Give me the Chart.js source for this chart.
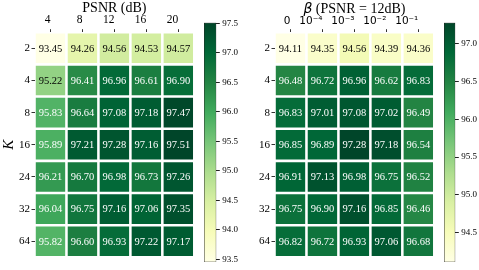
<!DOCTYPE html>
<html lang="en">
<head>
<meta charset="UTF-8">
<title>Heatmaps K x PSNR / beta</title>
<script src="https://cdn.jsdelivr.net/npm/chart.js"></script>
<style>
    html, body { margin: 0; padding: 0; background: #fff; }
    #wrap { position: relative; width: 479px; height: 270px; overflow: hidden; }
    canvas { position: absolute; top: 0; }
</style>
</head>
<body>
<div id="wrap">
    <canvas id="heatLeft" width="200" height="270" style="left:0"></canvas>
    <canvas id="barLeft" width="40" height="270" style="left:200px"></canvas>
    <canvas id="heatRight" width="200" height="270" style="left:240px"></canvas>
    <canvas id="barRight" width="39" height="270" style="left:440px"></canvas>
</div>
<script>
// dados
var kLabels = ['2', '4', '8', '16', '24', '32', '64'];
var psnrLabels = ['4', '8', '12', '16', '20'];
var betaLabels = ['0', '10\u207B\u2074', '10\u207B\u00B3', '10\u207B\u00B2', '10\u207B\u00B9'];

var accPsnr = [
    [93.45, 94.26, 94.56, 94.53, 94.57],
    [95.22, 96.41, 96.96, 96.61, 96.90],
    [95.83, 96.64, 97.08, 97.18, 97.47],
    [95.89, 97.21, 97.28, 97.16, 97.51],
    [96.21, 96.70, 96.98, 96.73, 97.26],
    [96.04, 96.75, 97.16, 97.06, 97.35],
    [95.82, 96.60, 96.93, 97.22, 97.17]
];
var accBeta = [
    [94.11, 94.35, 94.56, 94.39, 94.36],
    [96.48, 96.72, 96.96, 96.62, 96.83],
    [96.83, 97.01, 97.08, 97.02, 96.49],
    [96.85, 96.89, 97.28, 97.18, 96.54],
    [96.91, 97.13, 96.98, 96.75, 96.52],
    [96.75, 96.90, 97.16, 96.85, 96.46],
    [96.82, 96.72, 96.93, 97.06, 96.68]
];
var ticksBarPsnr = [93.5, 94.0, 94.5, 95.0, 95.5, 96.0, 96.5, 97.0, 97.5];
var ticksBarBeta = [94.5, 95.0, 95.5, 96.0, 96.5, 97.0];

// colormap YlGn
var ylgn = [[255, 255, 229], [247, 252, 185], [217, 240, 163], [173, 221, 142], [120, 198, 121],
            [65, 171, 93], [35, 132, 67], [0, 104, 55], [0, 69, 41]];

function corMapa(t) {
    t = Math.max(0, Math.min(1, t));
    var p = t * (ylgn.length - 1);
    var i = Math.min(Math.floor(p), ylgn.length - 2);
    var f = p - i;
    var a = ylgn[i], b = ylgn[i + 1];
    return [0, 1, 2].map(function (k) { return Math.round(a[k] + (b[k] - a[k]) * f); });
}
function rgb(c) { return 'rgb(' + c.join(',') + ')'; }
function luminancia(c) {
    var l = c.map(function (v) {
        v = v / 255;
        return v <= 0.03928 ? v / 12.92 : Math.pow((v + 0.055) / 1.055, 2.4);
    });
    return 0.2126 * l[0] + 0.7152 * l[1] + 0.0722 * l[2];
}

var serif = 'Liberation Serif';

// texto dentro das celulas
var textoCelulas = {
    id: 'textoCelulas',
    afterDatasetsDraw: function (chart) {
        var ctx = chart.ctx;
        ctx.save();
        ctx.font = '10.5px "' + serif + '"';
        ctx.textAlign = 'center';
        ctx.textBaseline = 'middle';
        chart.data.datasets.forEach(function (ds, r) {
            chart.getDatasetMeta(r).data.forEach(function (bar, c) {
                ctx.fillStyle = ds.corTexto[c];
                ctx.fillText(ds.valores[c].toFixed(2), bar.x, (bar.y + bar.base) / 2 + 0.5);
            });
        });
        ctx.restore();
    }
};

// titulo com partes em fontes diferentes (beta em italico)
var tituloMisto = {
    id: 'tituloMisto',
    afterDraw: function (chart, args, opts) {
        if (!opts.partes) return;
        var ctx = chart.ctx;
        ctx.save();
        ctx.textBaseline = 'middle';
        ctx.textAlign = 'left';
        ctx.fillStyle = '#000';
        var larg = 0;
        opts.partes.forEach(function (p) { ctx.font = p.fonte; larg += ctx.measureText(p.texto).width; });
        var x = (chart.chartArea.left + chart.chartArea.right) / 2 - larg / 2;
        opts.partes.forEach(function (p) {
            ctx.font = p.fonte;
            ctx.fillText(p.texto, x, 9);
            x += ctx.measureText(p.texto).width;
        });
        ctx.restore();
    }
};

function criarMapa(id, colunas, valores, tituloX, fonteX, tituloY, partesTitulo) {
    var todos = valores.flat();
    var vmin = Math.min.apply(null, todos), vmax = Math.max.apply(null, todos);
    var datasets = valores.map(function (linha, r) {
        var cores = linha.map(function (v) { return corMapa((v - vmin) / (vmax - vmin)); });
        return {
            label: kLabels[r],
            data: linha.map(function () { return [r - 0.46, r + 0.46]; }),
            valores: linha,
            backgroundColor: cores.map(rgb),
            corTexto: cores.map(function (c) { return luminancia(c) > 0.408 ? '#000' : '#fff'; }),
            borderWidth: 0,
            grouped: false,
            barPercentage: 0.92,
            categoryPercentage: 1
        };
    });

    return new Chart(document.getElementById(id), {
        type: 'bar',
        data: { labels: colunas, datasets: datasets },
        options: {
            responsive: false,
            animation: false,
            layout: { padding: { left: 0, right: 5.7, top: 0, bottom: 12.6 } },
            plugins: {
                legend: { display: false },
                tooltip: { enabled: false },
                tituloMisto: { partes: partesTitulo }
            },
            scales: {
                x: {
                    position: 'top',
                    grid: { drawOnChartArea: false, offset: false, tickLength: 3, color: '#333' },
                    border: { display: false },
                    ticks: { align: 'end', padding: 2, color: '#000', font: fonteX, maxRotation: 0 },
                    title: { display: !!tituloX, text: tituloX, color: '#000', font: { family: serif, size: 14 }, padding: 0 },
                    afterFit: function (s) { s.height = 32.2; }
                },
                y: {
                    type: 'linear',
                    reverse: true,
                    min: -0.5,
                    max: 6.5,
                    grid: { drawOnChartArea: false, tickLength: 3, color: '#333' },
                    border: { display: false },
                    afterBuildTicks: function (s) {
                        s.ticks = kLabels.map(function (_, i) { return { value: i }; });
                    },
                    ticks: {
                        padding: 1.5, color: '#000', font: { family: serif, size: 11 },
                        callback: function (v) { return kLabels[v]; }
                    },
                    title: {
                        display: !!tituloY, text: tituloY, color: '#000', padding: 0,
                        font: { family: serif, size: 15, style: 'italic' }
                    },
                    afterFit: function (s) { s.width = 34.5; }
                }
            }
        },
        plugins: [textoCelulas, tituloMisto]
    });
}

function criarBarra(id, valores, marcas) {
    var todos = valores.flat();
    var vmin = Math.min.apply(null, todos), vmax = Math.max.apply(null, todos);
    return new Chart(document.getElementById(id), {
        type: 'bar',
        data: {
            labels: [''],
            datasets: [{
                data: [[vmin, vmax]],
                backgroundColor: function (context) {
                    var area = context.chart.chartArea;
                    if (!area) return null;
                    var g = context.chart.ctx.createLinearGradient(0, area.bottom, 0, area.top);
                    ylgn.forEach(function (c, i) { g.addColorStop(i / (ylgn.length - 1), rgb(c)); });
                    return g;
                },
                borderColor: '#222',
                borderWidth: 0.8,
                borderSkipped: false,
                barPercentage: 1,
                categoryPercentage: 1
            }]
        },
        options: {
            responsive: false,
            animation: false,
            layout: { padding: { left: 4, right: 0, top: 22.7, bottom: 3.3 } },
            plugins: { legend: { display: false }, tooltip: { enabled: false } },
            scales: {
                x: { display: false },
                y: {
                    position: 'right',
                    min: vmin,
                    max: vmax,
                    grid: { drawOnChartArea: false, tickLength: 3.5, color: '#222' },
                    border: { display: false },
                    afterBuildTicks: function (s) {
                        s.ticks = marcas.map(function (v) { return { value: v }; });
                    },
                    ticks: {
                        padding: 2.5, color: '#000', font: { family: serif, size: 9 },
                        callback: function (v) { return v.toFixed(1); }
                    },
                    afterFit: function (s) { s.width = 23.7; }
                }
            }
        }
    });
}

criarMapa('heatLeft', psnrLabels, accPsnr, 'PSNR (dB)', { family: serif, size: 11.5 }, 'K');
criarBarra('barLeft', accPsnr, ticksBarPsnr);
criarMapa('heatRight', betaLabels, accBeta, '', { family: 'DejaVu Sans', size: 10.5 }, '', [
    { texto: '\u03B2', fonte: 'italic 14px "DejaVu Sans"' },
    { texto: ' (PSNR = 12dB)', fonte: '14px "' + serif + '"' }
]);
criarBarra('barRight', accBeta, ticksBarBeta);
</script>
</body>
</html>
